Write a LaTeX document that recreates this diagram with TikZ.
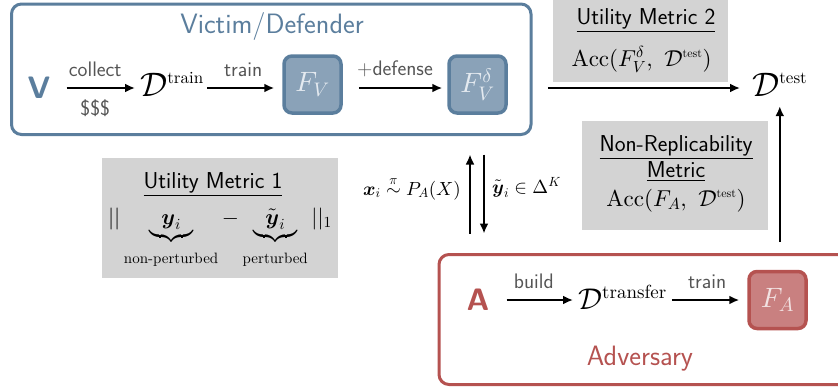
\documentclass[tikz,border=0pt]{standalone}
\usepackage{amsmath}
\DeclareFontShape{OT1}{cmr}{m}{n}{<->cmr10}{}
\DeclareFontShape{OT1}{cmr}{bx}{n}{<->cmbx10}{}
\DeclareFontShape{OML}{cmm}{m}{it}{<->cmmi10}{}
\DeclareFontShape{OML}{cmm}{b}{it}{<->cmmib10}{}
\DeclareFontShape{OMS}{cmsy}{m}{n}{<->cmsy10}{}
\DeclareFontShape{OMS}{cmsy}{b}{n}{<->cmbsy10}{}
\DeclareFontShape{OMX}{cmex}{m}{n}{<->cmex10}{}
\DeclareFontShape{TU}{lmr}{m}{n}{<->"[lmroman10-regular]:+tlig;"}{}
\usetikzlibrary{arrows.meta}
\definecolor{vblue}{HTML}{5B7E9D}
\definecolor{vfill}{HTML}{8AA2B8}
\definecolor{vtext}{HTML}{E4EAF0}
\definecolor{ared}{HTML}{B55250}
\definecolor{afill}{HTML}{C98080}
\definecolor{atext}{HTML}{F2E2E2}
\definecolor{mgray}{HTML}{D3D3D3}
\definecolor{lgray}{HTML}{555555}
\newcommand\myfs[1]{\fontsize{#1}{#1}\selectfont}
\tikzset{
  arr/.style={line width=2pt, -{Latex[length=10pt,width=9pt]}},
  lbl/.style={font=\myfs{21}\sffamily, text=lgray, inner sep=0pt},
  dnode/.style={font=\myfs{34}, inner sep=0pt, anchor=base west},
  vframe/.style={draw=vblue, line width=3pt, rounded corners=10pt},
  aframe/.style={draw=ared, line width=3pt, rounded corners=10pt},
  vmodel/.style={draw=vblue, fill=vfill, text=vtext, line width=3.5pt, rounded corners=8pt, minimum size=57pt, font=\myfs{28}},
  amodel/.style={draw=ared, fill=afill, text=atext, line width=3.5pt, rounded corners=8pt, minimum size=57pt, font=\myfs{28}},
  mbox/.style={fill=mgray, inner sep=0pt},
  mhead/.style={font=\myfs{23}\sffamily, anchor=base, inner sep=0pt},
  mmath/.style={font=\myfs{23}, anchor=base, inner sep=0pt},
  party/.style={font=\myfs{28}\sffamily, anchor=base, inner sep=0pt},
  letter/.style={font=\myfs{31}\sffamily\bfseries, inner sep=0pt},
}
\begin{document}
\begin{tikzpicture}[x=1pt,y=-1pt]
\clip (0,0) rectangle (838,388);
% metric boxes
\node[mbox, minimum width=175pt, minimum height=82pt] (um2) at (640.5,41) {};
\node[mbox, minimum width=186pt, minimum height=109pt] (nrm) at (675,175.5) {};
\node[mbox, minimum width=236pt, minimum height=120pt] (um1) at (220,218) {};
% victim
\node[vframe, minimum width=519.5pt, minimum height=130.5pt] (victim) at (271.25,69.25) {};
\node[party, text=vblue] (vtitle) at (272,33) {Victim/Defender};
\node[letter, text=vblue] (V) at (39,88) {V};
\node[dnode] (dtrain) at (140,96) {$\mathcal{D}^{\text{\myfs{17}train}}$};
\node[vmodel] (FV) at (312.5,84.5) {$F_V$};
\node[vmodel] (FVd) at (477.5,84.5) {$F_V^{\delta}$};
\draw[arr, shorten <=16pt, shorten >=5pt] (V.east) -- (V.east -| dtrain.west)
  node[lbl, midway, above=10pt] {collect}
  node[lbl, midway, below=11pt] {\$\$\$};
\draw[arr, shorten <=3pt, shorten >=8pt] (dtrain.east |- V.east) -- (FV.west |- V.east)
  node[lbl, midway, above=10pt] {train};
\draw[arr, shorten <=16pt, shorten >=5pt] (FV.east |- V.east) -- (FVd.west |- V.east)
  node[lbl, midway, above=10pt] {+defense};
% test
\node[dnode] (dtest) at (752,96) {$\mathcal{D}^{\text{\myfs{17}test}}$};
\draw[arr, shorten <=40pt, shorten >=12pt] (FVd.east |- V.east) -- (dtest.west |- V.east);
% utility metric 2
\node[mhead] (um2h) at (646,24) {\underline{Utility Metric 2}};
\node[mmath] (um2m) at (641.5,66) {$\mathrm{Acc}(F_V^{\delta},\ \mathcal{D}^{\text{\myfs{12}test}})$};
% non-replicability
\node[mhead] (nrh1) at (676,151) {\underline{Non-Replicability}};
\node[mhead] (nrh2) at (676,177) {\underline{Metric}};
\node[mmath] (nrm1) at (676,206) {$\mathrm{Acc}(F_A,\ \mathcal{D}^{\text{\myfs{12}test}})$};
% utility metric 1
\node[mhead] (um1h) at (213,188) {\underline{Utility Metric 1}};
\node[font=\myfs{22}, anchor=base, inner sep=0pt] (um1m) at (220,224)
  {$||\underbrace{\;\;\boldsymbol{y}_i\rule[-8pt]{0pt}{1pt}\;\;}_{\text{\myfs{15}\rule{0pt}{19pt}non-perturbed}}-\underbrace{\;\;\tilde{\boldsymbol{y}}_i\rule[-8pt]{0pt}{1pt}\;\;}_{\text{\myfs{15}\rule{0pt}{19pt}perturbed}}||_1$};
% adversary
\node[aframe, minimum width=421pt, minimum height=130pt] (adv) at (649.5,319.5) {};
\node[party, text=ared] (atitle) at (640,365) {Adversary};
\node[letter, text=ared] (A) at (478,300) {A};
\node[font=\myfs{30}, inner sep=0pt, anchor=base west] (dtransfer) at (578,309) {$\mathcal{D}^{\text{\myfs{19}transfer}}$};
\node[amodel] (FA) at (777.5,300) {$F_A$};
\draw[arr, shorten <=17pt, shorten >=5pt] (A.east) -- (A.east -| dtransfer.west)
  node[lbl, midway, above=10pt] {build};
\draw[arr, shorten <=5pt, shorten >=8pt] (dtransfer.east |- A.east) -- (FA.west |- A.east)
  node[lbl, midway, above=10pt] {train};
% adversary to test
\draw[arr, shorten <=11pt, shorten >=10pt] (adv.north -| dtest.south) -- (dtest.south);
% query arrows
\coordinate (qup) at (470,0);
\coordinate (qdown) at (484,0);
\draw[arr, shorten <=19.5pt, shorten >=18.5pt] (adv.north -| qup) -- (victim.south -| qup);
\draw[arr, shorten <=18.5pt, shorten >=19.5pt] (victim.south -| qdown) -- (adv.north -| qdown);
\node[font=\myfs{19}, anchor=base east, inner sep=0pt] (xlab) at (461,195) {$\boldsymbol{x}_i \overset{\pi}{\sim} P_A(X)$};
\node[font=\myfs{19}, anchor=base west, inner sep=0pt] (ylab) at (492,193) {$\tilde{\boldsymbol{y}}_i \in \Delta^K$};
\end{tikzpicture}
\end{document}
